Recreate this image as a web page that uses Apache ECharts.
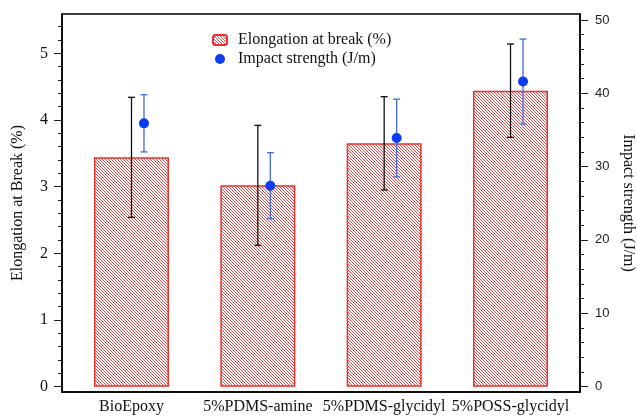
<!DOCTYPE html>
<html>
<head>
<meta charset="utf-8">
<script src="https://cdn.jsdelivr.net/npm/echarts@6/dist/echarts.min.js"></script>
<style>
  html, body { margin: 0; padding: 0; background: #fff; }
  #chart { width: 637px; height: 416px; }
</style>
</head>
<body>
<div id="chart"></div>
<script>
var categories = ['BioEpoxy', '5%PDMS-amine', '5%PDMS-glycidyl', '5%POSS-glycidyl'];
var elongation = [3.44, 3.02, 3.65, 4.44];
var elongationErr = [0.9, 0.9, 0.7, 0.7];
var impact = [35.9, 27.4, 33.9, 41.6];
var impactErr = [3.9, 4.5, 5.3, 5.8];
var leftTicks = [0, 1, 2, 3, 4, 5];
var rightTicks = [0, 10, 20, 30, 40, 50];

(function() {
  var red = '#e8302c';
  var blue = '#0a3cf5';
  var blueBar = '#3f68e6';
  var serif = '"Liberation Serif", "Times New Roman", serif';
  var sans = '"Liberation Sans", Arial, sans-serif';

  // hatch fill for the bars: one red pixel per row, repeating every 3px
  var tile = document.createElement('canvas');
  tile.width = 3; tile.height = 3;
  var c = tile.getContext('2d');
  c.fillStyle = '#fff';
  c.fillRect(0, 0, 3, 3);
  c.fillStyle = '#ea4a48';
  for (var k = 0; k < 3; k++) c.fillRect(k, k, 1, 1);

  function errorBars(dx, color, capHalf) {
    return function(params, api) {
      var lo = api.coord([api.value(0), api.value(1)]);
      var hi = api.coord([api.value(0), api.value(2)]);
      var x = lo[0] + dx;
      var st = { stroke: color, lineWidth: 1.3 };
      return {
        type: 'group',
        children: [
          { type: 'line', shape: { x1: x, y1: lo[1], x2: x, y2: hi[1] }, style: st },
          { type: 'line', shape: { x1: x - capHalf, y1: lo[1], x2: x + capHalf, y2: lo[1] }, style: st },
          { type: 'line', shape: { x1: x - capHalf, y1: hi[1], x2: x + capHalf, y2: hi[1] }, style: st }
        ]
      };
    };
  }

  var barData = elongation.map(function(v, i) { return [i, v]; });
  var barErrData = elongation.map(function(v, i) { return [i, v - elongationErr[i], v + elongationErr[i]]; });
  var dotData = impact.map(function(v, i) { return [i, v]; });
  var dotErrData = impact.map(function(v, i) { return [i, v - impactErr[i], v + impactErr[i]]; });

  var chart = echarts.init(document.getElementById('chart'));
  chart.setOption({
    animation: false,
    legend: {
      orient: 'vertical',
      left: 207,
      top: 27,
      itemGap: 3,
      itemWidth: 14,
      itemHeight: 10,
      data: ['Elongation at break (%)', 'Impact strength (J/m)'],
      textStyle: { fontFamily: serif, fontSize: 16, color: '#111', padding: [0, 0, 0, 6] }
    },
    grid: {
      left: 62, right: 57, top: 14, bottom: 24,
      outerBoundsMode: 'none',
      containLabel: false,
      show: true, borderColor: '#000', borderWidth: 1.5
    },
    xAxis: {
      type: 'value',
      min: -0.55,
      max: 3.55,
      splitLine: { show: false },
      axisTick: { show: false },
      axisLine: { onZero: false, lineStyle: { color: '#000', width: 1.5 } },
      axisLabel: {
        customValues: categories.map(function(_, i) { return i; }),
        formatter: function(v) { return categories[v]; },
        fontFamily: serif, fontSize: 16, color: '#111', margin: 7
      }
    },
    yAxis: [
      {
        type: 'value',
        min: -0.08,
        max: 5.59,
        name: 'Elongation at Break (%)',
        nameLocation: 'middle',
        nameGap: 36,
        nameTextStyle: { fontFamily: serif, fontSize: 16, color: '#111' },
        splitLine: { show: false },
        axisLine: { show: true, onZero: false, lineStyle: { color: '#000', width: 1.5 } },
        axisTick: { show: true, length: 8, customValues: leftTicks, lineStyle: { color: '#222' } },
        minorTick: { show: true, splitNumber: 5, length: 4, lineStyle: { color: '#222' } },
        axisLabel: { customValues: leftTicks, fontFamily: serif, fontSize: 16, color: '#111', margin: 14 }
      },
      {
        type: 'value',
        min: -0.75,
        max: 50.82,
        position: 'right',
        name: 'Impact strength (J/m)',
        nameLocation: 'middle',
        nameGap: 40,
        nameRotate: -90,
        nameTextStyle: { fontFamily: serif, fontSize: 16, color: '#111' },
        splitLine: { show: false },
        axisLine: { show: true, onZero: false, lineStyle: { color: '#000', width: 1.5 } },
        axisTick: { show: true, length: 8, customValues: rightTicks, lineStyle: { color: '#222' } },
        minorTick: { show: true, splitNumber: 5, length: 4, lineStyle: { color: '#222' } },
        axisLabel: { customValues: rightTicks, fontFamily: sans, fontSize: 13, color: '#222', margin: 15 }
      }
    ],
    series: [
      {
        name: 'Elongation at break (%)',
        type: 'bar',
        data: barData,
        barWidth: 75,
        itemStyle: {
          color: { image: tile, repeat: 'repeat' },
          borderColor: red,
          borderWidth: 1.5
        }
      },
      {
        type: 'custom',
        data: barErrData,
        renderItem: errorBars(0, '#111', 3.5),
        z: 5
      },
      {
        type: 'custom',
        yAxisIndex: 1,
        data: dotErrData,
        renderItem: errorBars(12.5, blueBar, 3.5),
        z: 6
      },
      {
        name: 'Impact strength (J/m)',
        type: 'scatter',
        yAxisIndex: 1,
        data: dotData,
        symbol: 'circle',
        symbolSize: 10,
        symbolOffset: [12.5, 0],
        itemStyle: { color: blue, opacity: 1 },
        z: 7
      }
    ]
  });
  window.addEventListener('resize', function() { chart.resize(); });
})();
</script>
</body>
</html>
